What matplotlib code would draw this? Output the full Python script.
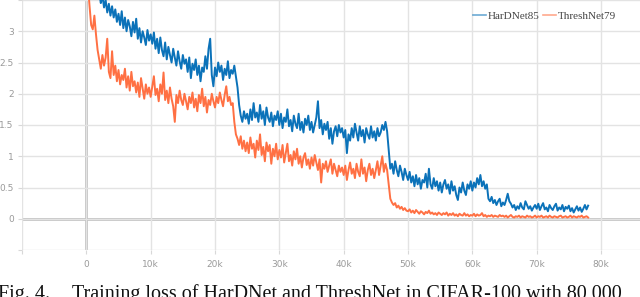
import matplotlib
matplotlib.use("Agg")
import matplotlib.pyplot as plt
from matplotlib.lines import Line2D

# ---- data ----
steps = list(range(0, 78001, 250))

hardnet85 = [
    4.60, 4.45, 4.30, 4.12, 3.98, 3.80, 3.70, 3.52, 3.62, 3.45, 3.58, 3.38, 3.50, 3.30, 3.44, 3.25, 3.40, 3.22, 3.35, 3.15,
    3.28, 3.10, 3.32, 3.05, 3.22, 3.00, 3.18, 3.08, 2.92, 3.15, 2.98, 3.20, 2.88, 3.05, 2.82, 3.00, 2.90, 2.78, 3.02, 2.85,
    2.95, 2.80, 2.98, 2.72, 2.88, 2.65, 2.90, 2.70, 2.60, 2.82, 2.55, 2.75, 2.62, 2.50, 2.72, 2.58, 2.45, 2.68, 2.52, 2.40,
    2.62, 2.48, 2.55, 2.35, 2.58, 2.25, 2.48, 2.38, 2.55, 2.30, 2.45, 2.20, 2.42, 2.35, 2.60, 2.40, 2.72, 2.88, 2.30, 2.12,
    2.42, 2.28, 2.50, 2.35, 2.45, 2.22, 2.40, 2.30, 2.52, 2.25, 2.38, 2.32, 2.45, 2.28, 2.10, 1.82, 1.65, 1.55, 1.72, 1.60,
    1.68, 1.52, 1.75, 1.58, 1.85, 1.62, 1.70, 1.55, 1.82, 1.60, 1.72, 1.50, 1.78, 1.62, 1.55, 1.70, 1.48, 1.65, 1.58, 1.72,
    1.50, 1.68, 1.45, 1.62, 1.55, 1.75, 1.48, 1.58, 1.40, 1.65, 1.52, 1.45, 1.68, 1.42, 1.55, 1.38, 1.60, 1.50, 1.65, 1.42,
    1.55, 1.38, 1.50, 1.62, 1.88, 1.45, 1.58, 1.35, 1.52, 1.42, 1.55, 1.28, 1.45, 1.20, 1.40, 1.48, 1.32, 1.50, 1.38, 1.45,
    1.30, 1.42, 1.05, 1.35, 1.25, 1.45, 1.30, 1.52, 1.38, 1.25, 1.48, 1.32, 1.42, 1.22, 1.45, 1.35, 1.28, 1.48, 1.30, 1.40,
    1.25, 1.45, 1.32, 1.38, 1.50, 1.42, 1.55, 1.40, 1.10, 0.80, 0.88, 0.72, 0.92, 0.78, 0.68, 0.85, 0.75, 0.62, 0.80, 0.70,
    0.62, 0.75, 0.58, 0.68, 0.52, 0.70, 0.55, 0.65, 0.48, 0.62, 0.58, 0.72, 0.50, 0.80, 0.55, 0.48, 0.65, 0.52, 0.60, 0.45,
    0.58, 0.42, 0.55, 0.62, 0.48, 0.55, 0.40, 0.60, 0.45, 0.52, 0.38, 0.30, 0.50, 0.42, 0.58, 0.45, 0.38, 0.55, 0.48, 0.60,
    0.45, 0.58, 0.50, 0.65, 0.55, 0.70, 0.52, 0.60, 0.48, 0.55, 0.32, 0.28, 0.35, 0.25, 0.30, 0.22, 0.28, 0.32, 0.20, 0.26,
    0.22, 0.30, 0.40, 0.28, 0.24, 0.18, 0.22, 0.14, 0.20, 0.16, 0.25, 0.18, 0.15, 0.28, 0.22, 0.16, 0.20, 0.13, 0.18, 0.22,
    0.16, 0.24, 0.14, 0.20, 0.25, 0.15, 0.18, 0.12, 0.22, 0.17, 0.14, 0.20, 0.24, 0.13, 0.18, 0.15, 0.22, 0.12, 0.19, 0.16,
    0.21, 0.12, 0.17, 0.10, 0.15, 0.20, 0.13, 0.18, 0.11, 0.16, 0.22, 0.15, 0.21,
]

threshnet79 = [
    4.20, 3.75, 3.40, 3.10, 3.03, 3.25, 2.95, 2.70, 2.55, 2.40, 2.62, 2.45, 2.58, 2.88, 2.35, 2.25, 2.68, 2.30, 2.45, 2.20,
    2.38, 2.15, 2.30, 2.22, 2.40, 2.10, 2.28, 2.05, 2.35, 2.12, 2.20, 2.02, 2.18, 1.95, 2.25, 2.08, 1.92, 2.15, 2.00, 2.10,
    1.95, 2.12, 2.28, 1.98, 2.08, 1.88, 2.15, 2.00, 2.34, 1.90, 2.05, 1.85, 2.10, 1.92, 1.80, 1.55, 1.98, 1.85, 2.05, 1.90,
    1.82, 2.00, 1.88, 1.75, 1.95, 1.85, 2.02, 1.78, 1.92, 1.72, 1.98, 1.85, 2.08, 1.80, 1.95, 1.70, 1.90, 1.82, 2.00, 1.88,
    1.78, 1.95, 1.85, 2.02, 1.90, 1.80, 1.98, 2.12, 1.88, 1.95, 1.82, 1.85, 1.55, 1.35, 1.28, 1.18, 1.32, 1.12, 1.25, 1.08,
    1.22, 1.05, 1.30, 1.12, 1.20, 0.98, 1.25, 1.10, 1.35, 1.02, 1.15, 0.92, 1.22, 1.08, 1.18, 0.88, 1.12, 1.00, 1.20, 0.95,
    1.10, 0.98, 1.18, 0.90, 1.05, 1.20, 0.92, 1.02, 0.85, 1.08, 0.95, 1.12, 0.88, 1.00, 0.82, 0.98, 1.05, 0.86, 0.95, 0.80,
    0.98, 0.85, 1.02, 0.90, 0.78, 0.95, 0.58, 0.88, 0.80, 0.92, 0.75, 0.85, 0.95, 0.72, 0.88, 0.78, 0.68, 0.85, 0.75, 0.82,
    0.70, 0.85, 0.62, 0.78, 0.90, 0.72, 0.80, 0.65, 0.88, 0.75, 0.68, 0.95, 0.72, 0.82, 0.60, 0.78, 0.88, 0.70, 0.80, 0.65,
    0.78, 0.92, 0.70, 0.85, 1.00, 0.75, 0.88, 0.78, 0.55, 0.32, 0.26, 0.22, 0.25, 0.18, 0.21, 0.16, 0.19, 0.14, 0.17, 0.13,
    0.12, 0.15, 0.10, 0.13, 0.09, 0.14, 0.11, 0.08, 0.12, 0.10, 0.07, 0.11, 0.09, 0.13, 0.08, 0.10, 0.07, 0.09, 0.06, 0.10,
    0.08, 0.06, 0.09, 0.07, 0.10, 0.05, 0.08, 0.06, 0.09, 0.05, 0.07, 0.04, 0.08, 0.06, 0.05, 0.09, 0.05, 0.07, 0.04, 0.06,
    0.05, 0.08, 0.04, 0.07, 0.05, 0.06, 0.09, 0.04, 0.06, 0.03, 0.05, 0.04, 0.06, 0.03, 0.05, 0.04, 0.03, 0.06, 0.04, 0.05,
    0.03, 0.05, 0.02, 0.04, 0.06, 0.03, 0.02, 0.04, 0.03, 0.05, 0.02, 0.04, 0.03, 0.02, 0.05, 0.03, 0.04, 0.02, 0.03, 0.05,
    0.02, 0.04, 0.03, 0.05, 0.02, 0.03, 0.04, 0.02, 0.05, 0.03, 0.02, 0.04, 0.03, 0.02, 0.04, 0.05, 0.02, 0.03, 0.04, 0.02,
    0.03, 0.05, 0.02, 0.04, 0.03, 0.02, 0.04, 0.03, 0.05, 0.02, 0.03, 0.04, 0.02,
]

series_names = ["HarDNet85", "ThreshNet79"]
series_colors = ["#0b72b9", "#ff7043"]

x_ticks = [-10000, 0, 10000, 20000, 30000, 40000, 50000, 60000, 70000, 80000]
x_tick_labels = ["", "0", "10k", "20k", "30k", "40k", "50k", "60k", "70k", "80k"]
y_ticks = [-0.5, 0, 0.5, 1, 1.5, 2, 2.5, 3, 3.5]
y_tick_labels = ["", "0", "0.5", "1", "1.5", "2", "2.5", "3", ""]

caption_head = "Fig. 4."
caption_body = "Training loss of HarDNet and ThreshNet in CIFAR-100 with 80,000"

# ---- figure ----
W, H = 640, 297
fig = plt.figure(figsize=(6.4, 2.97), dpi=100)
ax = fig.add_axes([22 / W, 1 - 250 / H, 1 - 22 / W, 250 / H])

ax.plot(steps, hardnet85, color=series_colors[0], lw=1.4, solid_joinstyle="round", zorder=3)
ax.plot(steps, threshnet79, color=series_colors[1], lw=1.4, solid_joinstyle="round", zorder=4)

ax.set_xlim(-10000, 86060)
ax.set_ylim(-0.5, 3.5)
ax.set_xticks(x_ticks)
ax.set_xticklabels(x_tick_labels)
ax.set_yticks(y_ticks)
ax.set_yticklabels(y_tick_labels)

ax.grid(True, color="#e3e3e3", lw=1.0, zorder=0)
ax.axhline(0, color="#b5b5b5", lw=1.8, zorder=1)
ax.axvline(0, color="#b5b5b5", lw=1.8, zorder=1)
for s in ax.spines.values():
    s.set_visible(False)
ax.tick_params(axis="both", colors="#d8d8d8", length=3, width=0.8,
               labelcolor="#9a9a9a", labelsize=6.5)
ax.tick_params(axis="x", pad=4)
ax.tick_params(axis="y", pad=3)

handles = [Line2D([], [], color=c, lw=1.2, alpha=0.6) for c in series_colors]
ax.legend(handles, series_names, loc="upper left", bbox_to_anchor=(473 / W, 1 - 11 / H),
          bbox_transform=fig.transFigure, ncol=2, frameon=False, handlelength=1.2,
          handletextpad=0.15, columnspacing=0.25, borderaxespad=0, borderpad=0,
          prop={"family": "Liberation Serif", "size": 8}, labelcolor="#444444")

fig.text(-2 / W, 1 - 299 / H, caption_head, family="Liberation Serif", fontsize=14.5,
         va="baseline", ha="left", color="#111111")
fig.text(72 / W, 1 - 299 / H, caption_body, family="Liberation Serif", fontsize=14.5,
         va="baseline", ha="left", color="#111111")

fig.savefig("out.png", dpi=100)
